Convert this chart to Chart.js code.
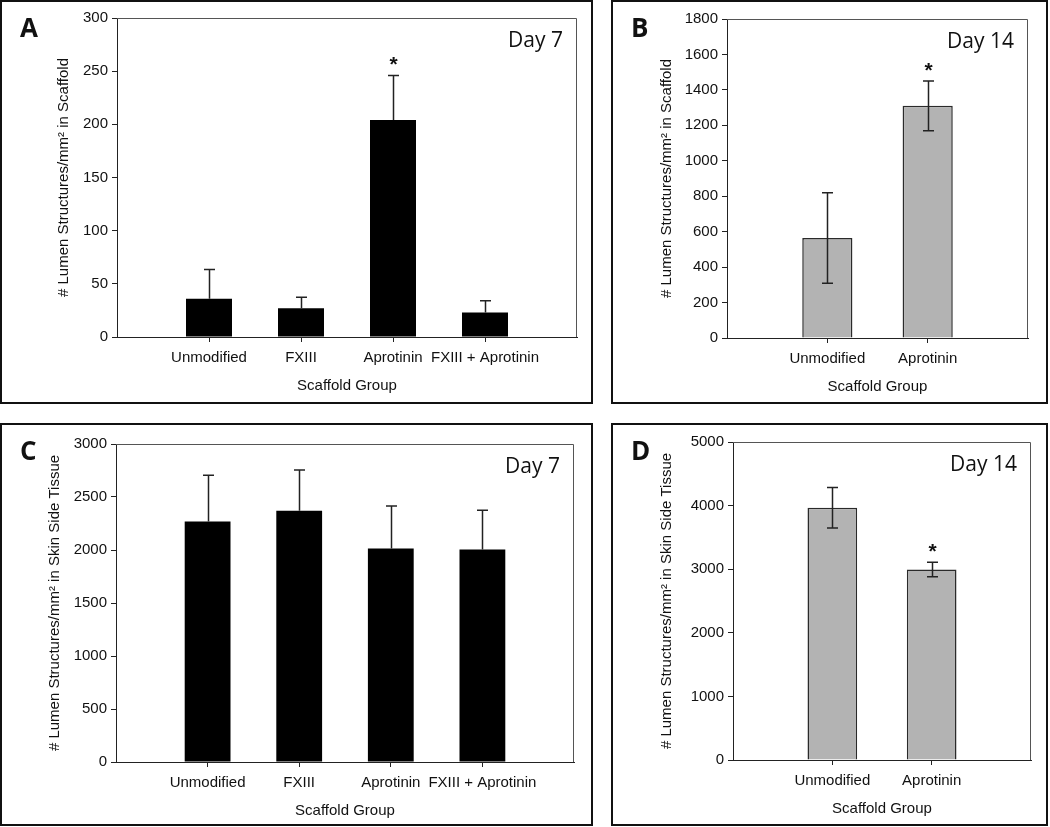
<!DOCTYPE html>
<html>
<head>
<meta charset="utf-8">
<script src="https://cdn.jsdelivr.net/npm/chart.js@4.4.1/dist/chart.umd.min.js"></script>
<style>
  body { margin: 0; background: #fff; width: 1050px; height: 827px; position: relative; overflow: hidden; }
  .frame { position: absolute; box-sizing: border-box; border: 2px solid #111; }
  .panel { position: absolute; }
</style>
</head>
<body>
<div class="frame" style="left:0;top:0;width:593px;height:404px"></div>
<div class="panel" style="left:0;top:0"><canvas id="chartA" width="593" height="404"></canvas></div>

<div class="frame" style="left:611px;top:0;width:437px;height:404px"></div>
<div class="panel" style="left:611px;top:0"><canvas id="chartB" width="437" height="404"></canvas></div>

<div class="frame" style="left:0;top:423px;width:593px;height:403px"></div>
<div class="panel" style="left:0;top:423px"><canvas id="chartC" width="593" height="403"></canvas></div>

<div class="frame" style="left:611px;top:423px;width:437px;height:403px"></div>
<div class="panel" style="left:611px;top:423px"><canvas id="chartD" width="437" height="403"></canvas></div>

<script>
// categories
const groups4 = ['Unmodified', 'FXIII', 'Aprotinin', 'FXIII + Aprotinin'];
const groups2 = ['Unmodified', 'Aprotinin'];

// A: scaffold, day 7
const scaffoldDay7 = [36, 27, 204, 23];
const scaffoldDay7Err = [27.5, 10.5, 42, 11];
const scaffoldDay7Sig = [false, false, true, false];

// B: scaffold, day 14
const scaffoldDay14 = [564, 1310];
const scaffoldDay14Err = [255, 140];
const scaffoldDay14Sig = [false, true];

// C: skin side tissue, day 7
const skinDay7 = [2270, 2370, 2015, 2005];
const skinDay7Err = [435, 385, 400, 370];
const skinDay7Sig = [false, false, false, false];

// D: skin side tissue, day 14
const skinDay14 = [3966, 2995];
const skinDay14Err = [320, 115];
const skinDay14Sig = [false, true];

Chart.defaults.font.family = '"Liberation Sans", Arial, sans-serif';
Chart.defaults.font.size = 15;
Chart.defaults.color = '#111';

// error bars + significance stars
const errorBars = {
  id: 'errbars',
  afterDatasetsDraw(chart, args, opts) {
    const ctx = chart.ctx;
    const y = chart.scales.y;
    const meta = chart.getDatasetMeta(0);
    const vals = chart.data.datasets[0].data;
    ctx.save();
    ctx.strokeStyle = '#222';
    ctx.lineWidth = 1.5;
    opts.err.forEach((e, i) => {
      const bar = meta.data[i + 1];
      const v = vals[i + 1];
      const x = Math.round(bar.x) + 0.5;
      const top = y.getPixelForValue(v + e);
      const bot = opts.twoSided ? y.getPixelForValue(v - e) : y.getPixelForValue(v);
      ctx.beginPath();
      ctx.moveTo(x, top); ctx.lineTo(x, bot);
      ctx.moveTo(x - 5.5, top); ctx.lineTo(x + 5.5, top);
      if (opts.twoSided) { ctx.moveTo(x - 5.5, bot); ctx.lineTo(x + 5.5, bot); }
      ctx.stroke();
      if (opts.sig[i]) {
        ctx.fillStyle = '#111';
        ctx.font = 'bold 21px "Liberation Sans", Arial, sans-serif';
        ctx.textAlign = 'center';
        ctx.textBaseline = 'alphabetic';
        ctx.fillText('*', x, top - 4);
      }
    });
    ctx.restore();
  }
};

// plot frame, panel letter and day label
const deco = {
  id: 'deco',
  afterDraw(chart, args, opts) {
    const ctx = chart.ctx;
    const a = chart.chartArea;
    ctx.save();
    ctx.strokeStyle = '#555';
    ctx.lineWidth = 1;
    ctx.beginPath();
    ctx.moveTo(a.left, Math.round(a.top) + 0.5);
    ctx.lineTo(Math.round(a.right) - 0.5, Math.round(a.top) + 0.5);
    ctx.lineTo(Math.round(a.right) - 0.5, a.bottom);
    ctx.stroke();
    ctx.fillStyle = '#111';
    ctx.textBaseline = 'alphabetic';
    ctx.font = 'bold 26px "Open Sans", sans-serif';
    ctx.textAlign = 'left';
    ctx.fillText(opts.letter, 20, 37);
    ctx.font = '21px "Open Sans", sans-serif';
    ctx.textAlign = 'right';
    ctx.fillText(opts.day, a.right - 14, a.top + 28.5);
    ctx.restore();
  }
};

function makePanel(id, cfg) {
  const labels = ['', ...cfg.groups, ''];
  const data = [null, ...cfg.values, null];
  new Chart(document.getElementById(id), {
    type: 'bar',
    data: {
      labels: labels,
      datasets: [{
        data: data,
        backgroundColor: cfg.fill,
        borderColor: cfg.edge,
        borderWidth: cfg.edgeWidth,
        categoryPercentage: 1,
        barPercentage: 0.5
      }]
    },
    options: {
      responsive: false,
      animation: false,
      layout: { padding: cfg.padding },
      plugins: {
        legend: { display: false },
        tooltip: { enabled: false },
        errbars: { err: cfg.err, sig: cfg.sig, twoSided: cfg.twoSided },
        deco: { letter: cfg.letter, day: cfg.day }
      },
      scales: {
        x: {
          offset: false,
          grid: {
            offset: false,
            drawOnChartArea: false,
            tickLength: 5,
            color: c => (c.tick && c.tick.label) ? '#222' : 'rgba(0,0,0,0)'
          },
          border: { color: '#222', width: 1 },
          ticks: { autoSkip: false, maxRotation: 0, minRotation: 0, padding: 7 },
          title: { display: true, text: 'Scaffold Group', padding: { top: 0, bottom: 4 } },
          afterFit: s => { s.height = 62; }
        },
        y: {
          min: 0,
          max: cfg.max,
          grid: { drawOnChartArea: false, tickLength: 5, color: '#222' },
          border: { color: '#222', width: 1 },
          ticks: { stepSize: cfg.step, padding: 4, callback: v => String(v) },
          title: { display: true, text: cfg.yTitle, padding: { top: cfg.titlePad, bottom: 0 } },
          afterFit: s => { s.width = cfg.yWidth; }
        }
      }
    },
    plugins: [errorBars, deco]
  });
}

makePanel('chartA', {
  groups: groups4, values: scaffoldDay7, err: scaffoldDay7Err, sig: scaffoldDay7Sig, twoSided: false,
  max: 300, step: 50, letter: 'A', day: 'Day 7',
  yTitle: '# Lumen Structures/mm² in Scaffold',
  fill: '#000', edge: '#000', edgeWidth: 0,
  padding: { top: 18, right: 16, bottom: 5, left: 0 }, yWidth: 117, titlePad: 55
});
makePanel('chartB', {
  groups: groups2, values: scaffoldDay14, err: scaffoldDay14Err, sig: scaffoldDay14Sig, twoSided: true,
  max: 1800, step: 200, letter: 'B', day: 'Day 14',
  yTitle: '# Lumen Structures/mm² in Scaffold',
  fill: '#b3b3b3', edge: '#2a2a2a', edgeWidth: 1.5,
  padding: { top: 19, right: 20, bottom: 4, left: 0 }, yWidth: 116, titlePad: 47
});
makePanel('chartC', {
  groups: groups4, values: skinDay7, err: skinDay7Err, sig: skinDay7Sig, twoSided: false,
  max: 3000, step: 500, letter: 'C', day: 'Day 7',
  yTitle: '# Lumen Structures/mm² in Skin Side Tissue',
  fill: '#000', edge: '#000', edgeWidth: 0,
  padding: { top: 21, right: 19, bottom: 2, left: 0 }, yWidth: 116, titlePad: 46
});
makePanel('chartD', {
  groups: groups2, values: skinDay14, err: skinDay14Err, sig: skinDay14Sig, twoSided: true,
  max: 5000, step: 1000, letter: 'D', day: 'Day 14',
  yTitle: '# Lumen Structures/mm² in Skin Side Tissue',
  fill: '#b3b3b3', edge: '#2a2a2a', edgeWidth: 1.5,
  padding: { top: 19, right: 17, bottom: 4, left: 0 }, yWidth: 122, titlePad: 47
});
</script>
</body>
</html>
